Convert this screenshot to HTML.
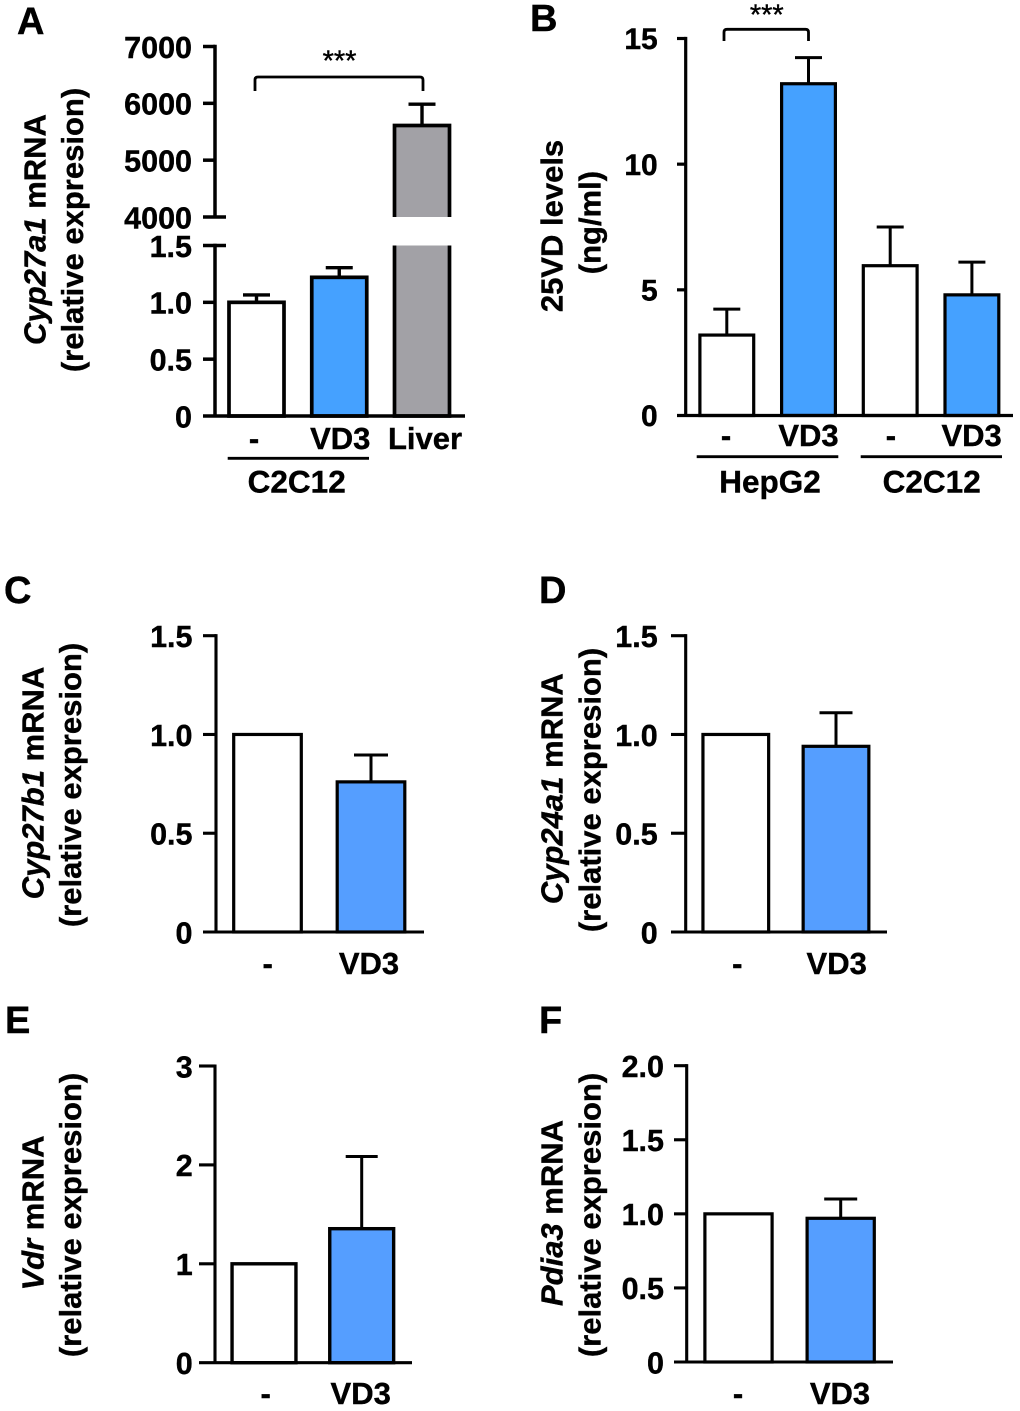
<!DOCTYPE html>
<html lang="en">
<head>
<meta charset="utf-8">
<title>Vitamin D metabolism bar charts</title>
<style>
  html, body { margin: 0; padding: 0; background: #fff; }
  svg { display: block; }
  text { font-family: "Liberation Sans", Arial, sans-serif; font-weight: bold; fill: #000; stroke: #000; stroke-width: 0.4px; }
  .title { font-size: 31px; text-anchor: middle; }
  .letter { font-size: 38px; }
  .group { font-size: 31.5px; text-anchor: middle; }
</style>
</head>
<body>
<svg id="figure" xmlns="http://www.w3.org/2000/svg" width="1020" height="1411" viewBox="0 0 1020 1411">
  <rect x="0" y="0" width="1020" height="1411" fill="#fff"/>

  <text class="letter" x="17" y="34">A</text>
  <text class="letter" x="530" y="31">B</text>
  <text class="letter" x="4" y="603">C</text>
  <text class="letter" x="539" y="603">D</text>
  <text class="letter" x="5" y="1033">E</text>
  <text class="letter" x="539" y="1033">F</text>

  <text class="title" transform="translate(45.5,229.5) rotate(-90)"><tspan font-style="italic">Cyp27a1</tspan> mRNA</text>
  <text class="title" transform="translate(83,230) rotate(-90)">(relative expresion)</text>
  <text class="title" transform="translate(562.7,226) rotate(-90)">25VD levels</text>
  <text class="title" transform="translate(600.7,222.6) rotate(-90)">(ng/ml)</text>
  <text class="title" transform="translate(43.3,783) rotate(-90)"><tspan font-style="italic">Cyp27b1</tspan> mRNA</text>
  <text class="title" transform="translate(81,785) rotate(-90)">(relative expresion)</text>
  <text class="title" transform="translate(562.7,788.7) rotate(-90)"><tspan font-style="italic">Cyp24a1</tspan> mRNA</text>
  <text class="title" transform="translate(600.7,790) rotate(-90)">(relative expresion)</text>
  <text class="title" transform="translate(43.3,1213) rotate(-90)"><tspan font-style="italic">Vdr</tspan> mRNA</text>
  <text class="title" transform="translate(81,1215) rotate(-90)">(relative expresion)</text>
  <text class="title" transform="translate(562.7,1213) rotate(-90)"><tspan font-style="italic">Pdia3</tspan> mRNA</text>
  <text class="title" transform="translate(600.7,1215) rotate(-90)">(relative expresion)</text>

  <line x1="227.7" x2="369" y1="458.3" y2="458.3" stroke="#000" stroke-width="2.8"/>
  <text class="group" x="296.7" y="492.7">C2C12</text>
  <line x1="696.7" x2="838.3" y1="456.7" y2="456.7" stroke="#000" stroke-width="2.8"/>
  <text class="group" x="770" y="492.7">HepG2</text>
  <line x1="860.7" x2="1002" y1="456.7" y2="456.7" stroke="#000" stroke-width="2.8"/>
  <text class="group" x="931.7" y="492.7">C2C12</text>
</svg>

<script>
// ---- chart data ----
const panelACategories = ['-', 'VD3', 'Liver'];
const panelAValues = [1.0, 1.22, 5610];
const panelAErrorTops = [1.065, 1.305, 5985];
const panelALowerTicks = [0, 0.5, 1.0, 1.5];
const panelALowerTickLabels = ['0', '0.5', '1.0', '1.5'];
const panelAUpperTicks = [4000, 5000, 6000, 7000];
const panelAUpperTickLabels = ['4000', '5000', '6000', '7000'];

const panelBCategories = ['-', 'VD3', '-', 'VD3'];
const panelBValues = [3.2, 13.2, 5.96, 4.8];
const panelBErrorTops = [4.23, 14.24, 7.5, 6.1];
const panelBTicks = [0, 5, 10, 15];
const panelBTickLabels = ['0', '5', '10', '15'];

const panelCCategories = ['-', 'VD3'];
const panelCValues = [1.0, 0.76];
const panelCErrorTops = [1.0, 0.896];
const panelCTicks = [0, 0.5, 1.0, 1.5];
const panelCTickLabels = ['0', '0.5', '1.0', '1.5'];

const panelDCategories = ['-', 'VD3'];
const panelDValues = [1.0, 0.94];
const panelDErrorTops = [1.0, 1.11];
const panelDTicks = [0, 0.5, 1.0, 1.5];
const panelDTickLabels = ['0', '0.5', '1.0', '1.5'];

const panelECategories = ['-', 'VD3'];
const panelEValues = [1.0, 1.355];
const panelEErrorTops = [1.0, 2.085];
const panelETicks = [0, 1, 2, 3];
const panelETickLabels = ['0', '1', '2', '3'];

const panelFCategories = ['-', 'VD3'];
const panelFValues = [1.0, 0.97];
const panelFErrorTops = [1.0, 1.10];
const panelFTicks = [0, 0.5, 1.0, 1.5, 2.0];
const panelFTickLabels = ['0', '0.5', '1.0', '1.5', '2.0'];

// ---- layout and styling ----
const WHITE = '#ffffff', BLUE_A = '#45a1ff', BLUE_C = '#559eff', GREY = '#a2a1a6';
const SVG_NS = 'http://www.w3.org/2000/svg';
const svg = document.getElementById('figure');

function make(tag, attrs, text) {
  const el = document.createElementNS(SVG_NS, tag);
  for (const k in attrs) el.setAttribute(k, attrs[k]);
  if (text !== undefined) el.textContent = text;
  svg.appendChild(el);
  return el;
}

function linear(d0, d1, r0, r1) {
  return function (v) { return r0 + (v - d0) / (d1 - d0) * (r1 - r0); };
}

function drawAxisSegment(id, suffix, p, yTop, yBottom) {
  const axis = make('line', { x1: p.axisX, x2: p.axisX, y1: yTop - p.axisWidth / 2, y2: yBottom, stroke: '#000', 'stroke-width': p.axisWidth });
  
  
}

function drawTicks(id, p, scale, ticks, labels, tickRight) {
  ticks.forEach(function (t, i) {
    const y = scale(t);
    const right = tickRight && tickRight[t] ? tickRight[t] : p.axisX;
    if (t !== 0) {
      const tick = make('line', { x1: p.tickLeft, x2: right, y1: y, y2: y, stroke: '#000', 'stroke-width': p.axisWidth });
      
      
    }
    const label = make('text', { x: p.tickLabelRight, y: y + p.tickLabelDy, 'text-anchor': 'end', 'font-size': p.tickFont }, labels[i]);
    
    
  });
}

function drawBars(id, p, valueScale, categories, values, errorTops) {
  values.forEach(function (v, i) {
    const cx = p.firstBarX + i * p.barStep;
    const top = valueScale(v);
    const errTop = valueScale(errorTops[i]);
    if (errorTops[i] > v) {
      const stem = make('line', { x1: cx, x2: cx, y1: errTop, y2: top, stroke: '#000', 'stroke-width': p.errWidth });
      
      
      const cap = make('line', { x1: cx - p.capWidth / 2, x2: cx + p.capWidth / 2, y1: errTop, y2: errTop, stroke: '#000', 'stroke-width': p.errWidth });
      
      
    }
    const bar = make('rect', { x: cx - p.barWidth / 2, y: top, width: p.barWidth, height: p.baseY - top, fill: p.fills[i], stroke: '#000', 'stroke-width': p.barStroke });
    
    
    const label = make('text', { x: cx + p.labelDx[i], y: p.labelY, 'text-anchor': 'middle', 'font-size': 31 }, categories[i]);
    
    
  });
}

function drawBaseline(id, p) {
  const base = make('line', { x1: p.tickLeft, x2: p.baseRight, y1: p.baseY, y2: p.baseY, stroke: '#000', 'stroke-width': p.axisWidth });
  
  
}

function drawBracket(id, p, b) {
  const x1 = p.firstBarX + b.from * p.barStep + b.dx1;
  const x2 = p.firstBarX + b.to * p.barStep + b.dx2;
  const r = 3;
  const d = 'M' + x1 + ' ' + b.bottom + 'V' + (b.top + r) + 'Q' + x1 + ' ' + b.top + ' ' + (x1 + r) + ' ' + b.top +
            'H' + (x2 - r) + 'Q' + x2 + ' ' + b.top + ' ' + x2 + ' ' + (b.top + r) + 'V' + b.bottom;
  const path = make('path', { d: d, fill: 'none', stroke: '#000', 'stroke-width': 2.8 });
  
  
  const stars = make('text', { x: (x1 + x2) / 2 + 0.5, y: b.starY, 'text-anchor': 'middle', 'font-size': 29, style: 'font-weight:normal' }, '***');
  
  
}

function drawSimplePanel(id, p, categories, values, errorTops, ticks, labels) {
  const y = linear(ticks[0], ticks[ticks.length - 1], p.baseY, p.topY);
  drawBars(id, p, y, categories, values, errorTops);
  drawAxisSegment(id, '', p, p.topY, p.baseY);
  drawTicks(id, p, y, ticks, labels);
  drawBaseline(id, p);
  if (p.bracket) drawBracket(id, p, p.bracket);
}

// Panel A: broken axis
(function () {
  const p = { axisX: 215, axisWidth: 3.5, tickLeft: 203, baseY: 416, baseRight: 465, tickLabelRight: 192, tickLabelDy: 11.3, tickFont: 30.5,
              firstBarX: 256.5, barStep: 82.75, barWidth: 55, barStroke: 3.7, errWidth: 3.4, capWidth: 27, labelY: 449,
              labelDx: [-2.5, 1, 3], fills: [WHITE, BLUE_A, GREY],
              lowerTop: 245.5, upperBottom: 217, upperTop: 46.5, tickExtend: 226 };
  const lower = linear(panelALowerTicks[0], panelALowerTicks[panelALowerTicks.length - 1], p.baseY, p.lowerTop);
  const upper = linear(panelAUpperTicks[0], panelAUpperTicks[panelAUpperTicks.length - 1], p.upperBottom, p.upperTop);
  const breakValue = panelALowerTicks[panelALowerTicks.length - 1];
  const brokenScale = function (v) { return v <= breakValue ? lower(v) : upper(v); };

  drawBars('panel-a', p, brokenScale, panelACategories, panelAValues, panelAErrorTops);

  // white gap across only those bars that rise above the axis break
  panelAValues.forEach(function (v, i) {
    if (v <= breakValue) return;
    const cx = p.firstBarX + i * p.barStep;
    const half = p.barWidth / 2 + p.barStroke;
    const mask = make('rect', { x: cx - half, y: p.upperBottom, width: half * 2, height: p.lowerTop - p.upperBottom, fill: '#fff' });
    
    
  });

  drawAxisSegment('panel-a', '-lower', p, p.lowerTop, p.baseY);
  drawAxisSegment('panel-a', '-upper', p, p.upperTop, p.upperBottom);
  const lowerExt = {}; lowerExt[breakValue] = p.tickExtend;
  const upperExt = {}; upperExt[panelAUpperTicks[0]] = p.tickExtend;
  drawTicks('panel-a', p, lower, panelALowerTicks, panelALowerTickLabels, lowerExt);
  drawTicks('panel-a', p, upper, panelAUpperTicks, panelAUpperTickLabels, upperExt);
  drawBaseline('panel-a', p);
  drawBracket('panel-a', p, { from: 0, to: 2, dx1: -1.5, dx2: 1, top: 77, bottom: 91, starY: 70.5 });
})();

drawSimplePanel('panel-b', { axisX: 685.7, axisWidth: 3.2, tickLeft: 677, topY: 38.5, baseY: 415.5, baseRight: 1013, tickLabelRight: 657.7, tickLabelDy: 10.7, tickFont: 30,
  firstBarX: 726.8, barStep: 81.7, barWidth: 53.8, barStroke: 3.2, errWidth: 3, capWidth: 27, labelY: 446, labelDx: [-0.8, 0, 0.7, -0.3],
  fills: [WHITE, BLUE_A, WHITE, BLUE_A], bracket: { from: 0, to: 1, dx1: -2.8, dx2: 0, top: 29.3, bottom: 41, starY: 24.5 } },
  panelBCategories, panelBValues, panelBErrorTops, panelBTicks, panelBTickLabels);

drawSimplePanel('panel-c', { axisX: 216, axisWidth: 3.1, tickLeft: 203, topY: 635.7, baseY: 932, baseRight: 424, tickLabelRight: 192.5, tickLabelDy: 11.3, tickFont: 30.5,
  firstBarX: 267.5, barStep: 103.5, barWidth: 67.6, barStroke: 3.2, errWidth: 3, capWidth: 34, labelY: 974, labelDx: [0.2, -2],
  fills: [WHITE, BLUE_C] }, panelCCategories, panelCValues, panelCErrorTops, panelCTicks, panelCTickLabels);

drawSimplePanel('panel-d', { axisX: 685.7, axisWidth: 3.1, tickLeft: 671, topY: 635.7, baseY: 932, baseRight: 887, tickLabelRight: 657.7, tickLabelDy: 11.3, tickFont: 30.5,
  firstBarX: 735.8, barStep: 100.2, barWidth: 65.7, barStroke: 3.2, errWidth: 3, capWidth: 33, labelY: 974, labelDx: [1.5, 0.7],
  fills: [WHITE, BLUE_C] }, panelDCategories, panelDValues, panelDErrorTops, panelDTicks, panelDTickLabels);

drawSimplePanel('panel-e', { axisX: 215, axisWidth: 3.1, tickLeft: 199, topY: 1066, baseY: 1362.7, baseRight: 412, tickLabelRight: 192.7, tickLabelDy: 11.3, tickFont: 30.5,
  firstBarX: 264, barStep: 97.7, barWidth: 63.9, barStroke: 3.4, errWidth: 3, capWidth: 32, labelY: 1404, labelDx: [1.7, -1],
  fills: [WHITE, BLUE_C] }, panelECategories, panelEValues, panelEErrorTops, panelETicks, panelETickLabels);

drawSimplePanel('panel-f', { axisX: 686.7, axisWidth: 3.1, tickLeft: 674, topY: 1065.7, baseY: 1362, baseRight: 893, tickLabelRight: 664, tickLabelDy: 11.3, tickFont: 30.5,
  firstBarX: 738.5, barStep: 102.2, barWidth: 67.2, barStroke: 3.2, errWidth: 3, capWidth: 33, labelY: 1404, labelDx: [-0.5, -0.7],
  fills: [WHITE, BLUE_C] }, panelFCategories, panelFValues, panelFErrorTops, panelFTicks, panelFTickLabels);
</script>
</body>
</html>
